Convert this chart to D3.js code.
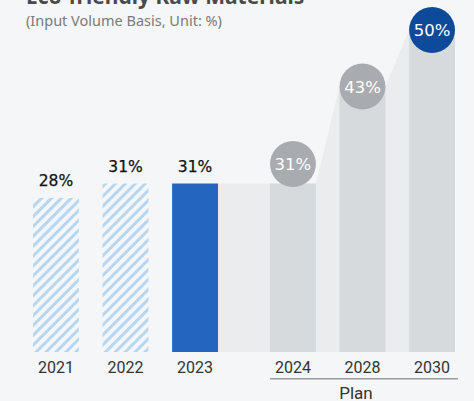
<!DOCTYPE html>
<html>
<head>
<meta charset="utf-8">
<script src="https://cdn.jsdelivr.net/npm/d3@7/dist/d3.min.js"></script>
<style>
  html, body { margin: 0; padding: 0; background: #f5f6f8; }
  svg { display: block; }
</style>
</head>
<body>
<svg id="chart" width="474" height="401"></svg>
<script>
// Share of eco-friendly raw materials (input volume basis, %)
const actualYears = ["2021", "2022", "2023"];
const actualValues = [28, 31, 31];
const planYears = ["2024", "2028", "2030"];
const planValues = [31, 43, 50];
const titleText = "Eco-friendly Raw Materials";
const subtitleText = "(Input Volume Basis, Unit: %)";
const planLabel = "Plan";

const W = 474, H = 401;
const baseY = 352;

const svg = d3.select("#chart");

// two groups of bars: results and targets
const xActual = d3.scaleBand().domain(actualYears).range([33, 218]).paddingInner(0.34).paddingOuter(0);
const xPlan = d3.scaleBand().domain(planYears).range([270, 455]).paddingInner(0.34).paddingOuter(0);
const bw = xActual.bandwidth();

// value axis is stretched above the 2023 level so the targets stand out
const y = d3.scaleLinear().domain([-4, 31, 50]).range([baseY, 183.5, 30]);

// hatch pattern for past years
const defs = svg.append("defs");
const pat = defs.append("pattern")
  .attr("id", "hatch")
  .attr("patternUnits", "userSpaceOnUse")
  .attr("width", 7).attr("height", 7)
  .attr("patternTransform", "rotate(45)");
pat.append("rect").attr("x", 0).attr("y", 0).attr("width", 3).attr("height", 7).attr("fill", "#b6d7f2");

// title (partly above the frame) and subtitle
svg.append("text").attr("x", 26).attr("y", 4)
  .attr("font-family", "'Noto Sans', sans-serif").attr("font-weight", 700)
  .attr("font-size", 21).attr("fill", "#4a4a4a").text(titleText);
svg.append("text").attr("x", 26).attr("y", 26)
  .attr("font-family", "'Noto Sans', sans-serif")
  .attr("font-size", 14.5).attr("fill", "#7a7a7a").text(subtitleText);

// light area joining the 2023 level to the targets
const lastActual = actualYears[actualYears.length - 1];
const areaPts = [{ x: xActual(lastActual) + bw, v: actualValues[actualValues.length - 1] }];
planYears.forEach((yr, i) => {
  areaPts.push({ x: xPlan(yr), v: planValues[i] });
  areaPts.push({ x: xPlan(yr) + bw, v: planValues[i] });
});
svg.append("path")
  .datum(areaPts)
  .attr("fill", "#ebecee")
  .attr("d", d3.area().x(d => d.x).y0(baseY).y1(d => y(d.v)));

// past bars
const actualData = actualYears.map((yr, i) => ({ yr, v: actualValues[i], last: i === actualYears.length - 1 }));
svg.append("g").selectAll("rect").data(actualData).join("rect")
  .attr("x", d => xActual(d.yr))
  .attr("y", d => y(d.v))
  .attr("width", bw)
  .attr("height", d => baseY - y(d.v))
  .attr("fill", d => d.last ? "#2466bf" : "url(#hatch)");

svg.append("g").selectAll("text").data(actualData).join("text")
  .attr("x", d => xActual(d.yr) + bw / 2)
  .attr("y", d => y(d.v) - 11.5)
  .attr("text-anchor", "middle")
  .attr("font-family", "'DejaVu Sans', sans-serif")
  .attr("font-size", 15.5)
  .attr("fill", "#111")
  .attr("stroke", "#111").attr("stroke-width", 0.25)
  .text(d => d.v + "%");

// target bars
const planData = planYears.map((yr, i) => ({ yr, v: planValues[i], i }));
svg.append("g").selectAll("rect").data(planData).join("rect")
  .attr("x", d => xPlan(d.yr))
  .attr("y", d => y(d.v))
  .attr("width", bw)
  .attr("height", d => baseY - y(d.v))
  .attr("fill", "#d7dadd");

// value badges; the first one sits above its flat bar
const badge = svg.append("g").selectAll("g").data(planData).join("g")
  .attr("transform", d => `translate(${xPlan(d.yr) + bw / 2},${y(d.v) - (d.i === 0 ? 19.5 : 0)})`);
badge.append("circle")
  .attr("r", bw / 2)
  .attr("fill", d => d.i === planData.length - 1 ? "#0e4a9a" : "#a8abb0");
badge.append("text")
  .attr("text-anchor", "middle")
  .attr("dy", "0.36em")
  .attr("font-family", "'DejaVu Sans', sans-serif")
  .attr("font-size", 16.5)
  .attr("fill", "#fff")
  .text(d => d.v + "%");

// year labels
const yearFont = "Roboto, sans-serif";
svg.append("g").selectAll("text").data(actualYears).join("text")
  .attr("x", d => xActual(d) + bw / 2).attr("y", 373.3)
  .attr("text-anchor", "middle").attr("font-family", yearFont)
  .attr("font-size", 16).attr("fill", "#333").text(d => d);
svg.append("g").selectAll("text").data(planYears).join("text")
  .attr("x", d => xPlan(d) + bw / 2).attr("y", 373.3)
  .attr("text-anchor", "middle").attr("font-family", yearFont)
  .attr("font-size", 16).attr("fill", "#333").text(d => d);

// bracket for the plan years
svg.append("line")
  .attr("x1", xPlan(planYears[0])).attr("x2", xPlan(planYears[planYears.length - 1]) + bw + 3)
  .attr("y1", 378.7).attr("y2", 378.7)
  .attr("stroke", "#9a9a9a").attr("stroke-width", 1.5);
svg.append("text")
  .attr("x", xPlan(planYears[1]) + bw / 2 - 6.5).attr("y", 398.5)
  .attr("text-anchor", "middle").attr("font-family", yearFont)
  .attr("font-size", 17).attr("fill", "#333").text(planLabel);
</script>
</body>
</html>
